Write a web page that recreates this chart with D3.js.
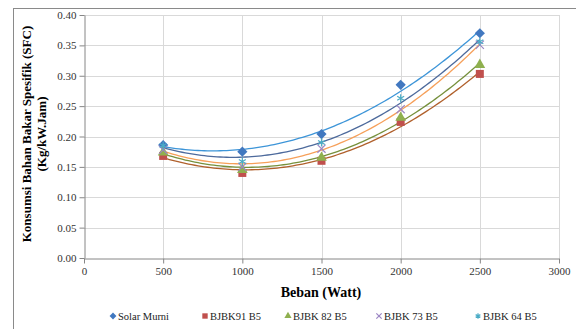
<!DOCTYPE html>
<meta charset="utf-8">
<script src="https://cdn.jsdelivr.net/npm/d3@7"></script>
<style>
    html, body { margin: 0; background: white; }
    .grid line { stroke: #d9d9d9; }
    .axis text { font-family: "Liberation Serif", serif; font-size: 11px; fill: #333; }
    .axis path, .axis line { stroke: #868686; }
</style>
<body></body>
<script>
    // DATA
    const beban = [500, 1000, 1500, 2000, 2500];
    const seriesNames = ["Solar Murni", "BJBK91 B5", "BJBK 82 B5", "BJBK 73 B5", "BJBK 64 B5"];
    const solarMurni = [0.186, 0.175, 0.204, 0.285, 0.370];
    const bjbk91 = [0.168, 0.140, 0.160, 0.224, 0.303];
    const bjbk82 = [0.174, 0.145, 0.165, 0.231, 0.318];
    const bjbk73 = [0.178, 0.150, 0.180, 0.245, 0.351];
    const bjbk64 = [0.185, 0.159, 0.190, 0.263, 0.356];
    const xTicks = [0, 500, 1000, 1500, 2000, 2500, 3000];
    const yTicks = [0, 0.05, 0.10, 0.15, 0.20, 0.25, 0.30, 0.35, 0.40];

    // STYLE
    const width = 576, height = 329;
    const markerColors = ["#4178c0", "#c0504d", "#8fb04f", "#9c86c4", "#4bacc6"];
    const trendColors = ["#3d95d8", "#b0602c", "#76903c", "#f6a05a", "#4d6a9c"];
    const shapes = [d3.symbolSquare, d3.symbolSquare, d3.symbolTriangle, d3.symbolTimes, d3.symbolAsterisk];
    const sizes = [52, 64, 50, 45, 45];
    const allSeries = [solarMurni, bjbk91, bjbk82, bjbk73, bjbk64];

    const svg = d3.select("body").append("svg")
        .attr("width", width).attr("height", height);

    // chart frame
    svg.append("rect")
        .attr("x", 13.5).attr("y", 8.5)
        .attr("width", 600).attr("height", 400)
        .attr("fill", "none").attr("stroke", "#8a8a8a");

    const x = d3.scaleLinear().domain([0, 3000]).range([84, 559]);
    const y = d3.scaleLinear().domain([0, 0.4]).range([258, 15]);

    // gridlines
    svg.append("g").attr("class", "grid")
        .selectAll("line.h").data(yTicks.slice(1)).join("line")
        .attr("x1", x(0)).attr("x2", x(3000))
        .attr("y1", d => Math.round(y(d)) + 0.5).attr("y2", d => Math.round(y(d)) + 0.5);
    svg.append("g").attr("class", "grid")
        .selectAll("line.v").data(xTicks.slice(1)).join("line")
        .attr("y1", y(0)).attr("y2", y(0.4))
        .attr("x1", d => Math.round(x(d)) + 0.5).attr("x2", d => Math.round(x(d)) + 0.5);

    // axes
    svg.append("g").attr("class", "axis")
        .attr("transform", `translate(0,${Math.round(y(0)) + 0.5})`)
        .call(d3.axisBottom(x).tickValues(xTicks).tickSize(5).tickSizeOuter(0).tickPadding(4).tickFormat(d3.format("d")));
    svg.append("g").attr("class", "axis")
        .attr("transform", `translate(${Math.round(x(0)) + 0.5},0)`)
        .call(d3.axisLeft(y).tickValues(yTicks).tickSize(5).tickSizeOuter(0).tickPadding(3).tickFormat(d3.format(".2f")));

    // axis titles
    svg.append("text")
        .attr("x", 321).attr("y", 297)
        .attr("text-anchor", "middle")
        .attr("font-family", "Liberation Serif, serif").attr("font-weight", "bold").attr("font-size", 14)
        .text("Beban (Watt)");

    const yTitle = svg.append("text")
        .attr("transform", "translate(31,134) rotate(-90)")
        .attr("text-anchor", "middle")
        .attr("font-family", "Liberation Serif, serif").attr("font-weight", "bold").attr("font-size", 13);
    yTitle.append("tspan").attr("x", 0).attr("y", 0).text("Konsumsi Bahan Bakar Spesifik (SFC)");
    yTitle.append("tspan").attr("x", 0).attr("y", 15).text("(Kg/kW.Jam)");

    // polynomial (order 2) trendline, least squares like Excel
    function quadFit(xs, ys) {
        const s = [0, 0, 0, 0, 0], t = [0, 0, 0];
        xs.forEach((xv, i) => {
            for (let k = 0; k < 5; k++) s[k] += Math.pow(xv, k);
            for (let k = 0; k < 3; k++) t[k] += ys[i] * Math.pow(xv, k);
        });
        const A = [[s[0], s[1], s[2], t[0]], [s[1], s[2], s[3], t[1]], [s[2], s[3], s[4], t[2]]];
        for (let i = 0; i < 3; i++) {
            for (let j = i + 1; j < 3; j++) {
                const f = A[j][i] / A[i][i];
                for (let k = i; k < 4; k++) A[j][k] -= f * A[i][k];
            }
        }
        const c = [0, 0, 0];
        for (let i = 2; i >= 0; i--) {
            let v = A[i][3];
            for (let k = i + 1; k < 3; k++) v -= A[i][k] * c[k];
            c[i] = v / A[i][i];
        }
        return xv => c[0] + c[1] * xv + c[2] * xv * xv;
    }

    const line = d3.line().x(d => x(d[0])).y(d => y(d[1]));
    const xs = d3.range(500, 2501, 20);
    allSeries.forEach((vals, i) => {
        const f = quadFit(beban, vals);
        svg.append("path")
            .attr("d", line(xs.map(v => [v, f(v)])))
            .attr("fill", "none")
            .attr("stroke", trendColors[i])
            .attr("stroke-width", 1.3);
    });

    // markers (diamond = square turned 45deg)
    function drawMarker(g, i, cx, cy, scale) {
        const stroked = i >= 3;
        g.append("path")
            .attr("d", d3.symbol().type(shapes[i]).size(sizes[i] * scale)())
            .attr("transform", `translate(${cx},${cy})` + (i === 0 ? " rotate(45)" : ""))
            .attr("fill", stroked ? "none" : markerColors[i])
            .attr("stroke", stroked ? markerColors[i] : "none")
            .attr("stroke-width", 1.2);
    }

    allSeries.forEach((vals, i) => {
        const g = svg.append("g");
        vals.forEach((v, j) => drawMarker(g, i, x(beban[j]), y(v), 1));
    });

    // legend
    const legendX = [113, 205, 288, 379, 478];
    const legend = svg.append("g");
    seriesNames.forEach((name, i) => {
        drawMarker(legend, i, legendX[i], 316, 0.45);
        legend.append("text")
            .attr("x", legendX[i] + 5).attr("y", 320)
            .attr("font-family", "Liberation Serif, serif").attr("font-size", 10.5)
            .attr("fill", "#222")
            .text(name);
    });
</script>
